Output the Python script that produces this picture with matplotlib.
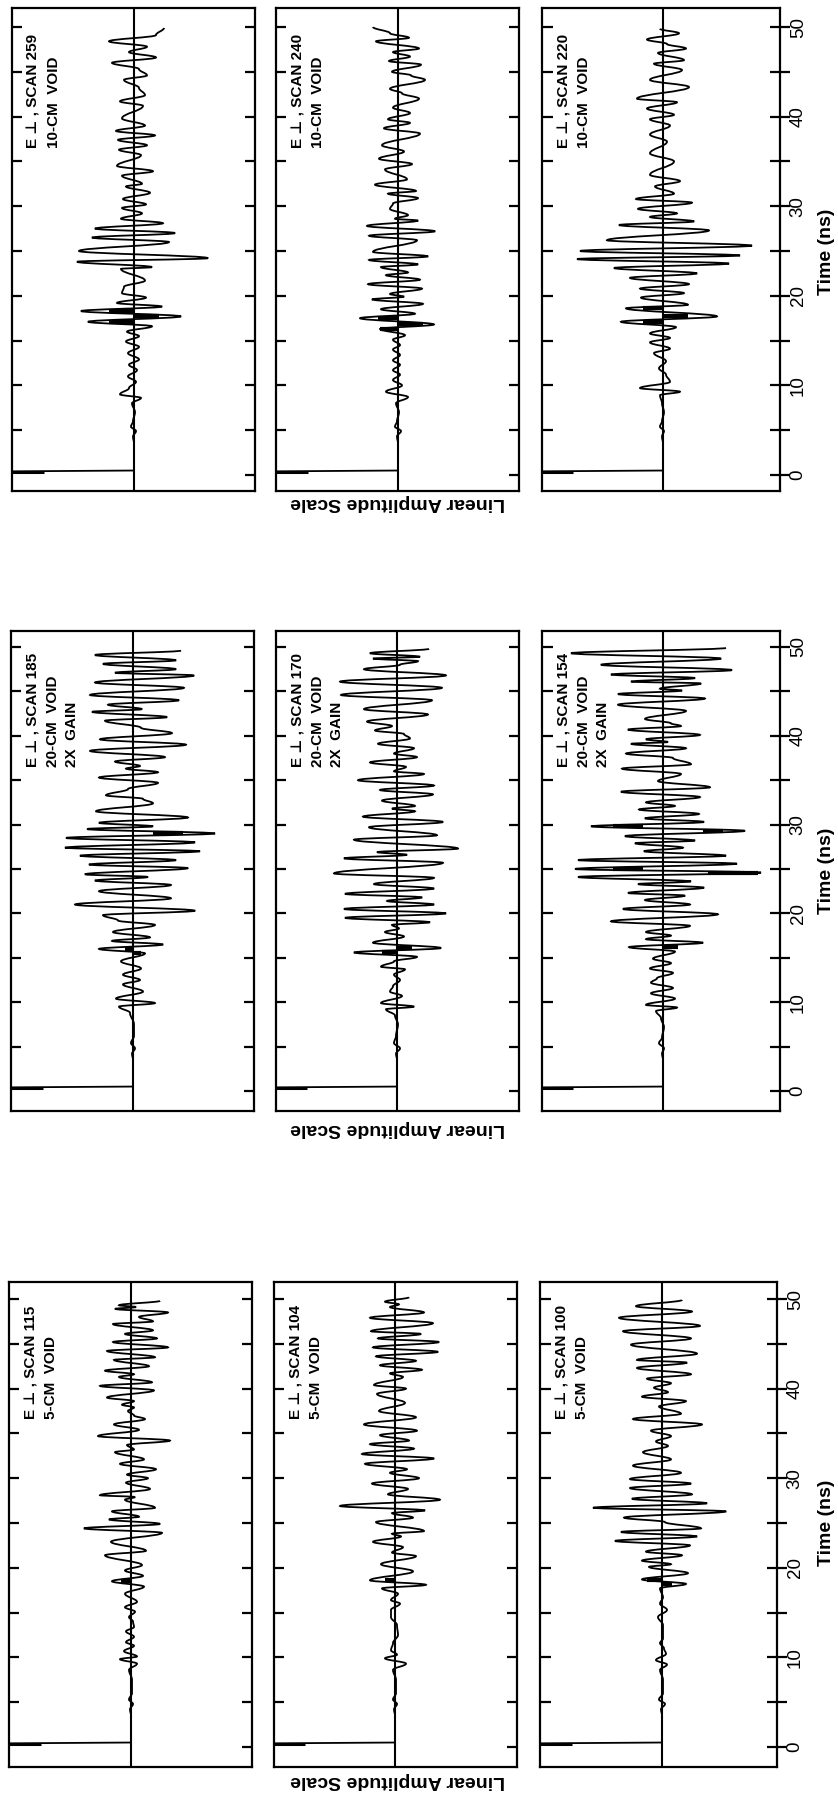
import matplotlib
matplotlib.use("Agg")
import matplotlib.pyplot as plt
from matplotlib.path import Path
from matplotlib.patches import PathPatch

plt.rcParams['font.family'] = ['Liberation Sans', 'DejaVu Sans']

# peak times (ns) and amplitudes of each trace
t_259 = [49.9,49.1,48.4,47.8,47.2,46.6,46.0,45.3,44.6,44.1,43.2,42.4,41.7,41.2,39.8,39.0,38.4,37.9,37.4,36.8,36.3,35.7,34.5,33.9,33.4,32.5,32.2,31.5,30.8,30.2,29.8,29.2,28.6,28.1,27.5,27.0,26.5,26.0,25.0,24.2,23.8,23.2,23.0,21.7,21.0,20.3,19.8,19.2,18.8,18.3,17.7,17.1,16.6,16.0,15.5,14.9,14.3,13.6,12.9,12.3,11.7,11.0,10.4,9.7,9.0,8.6,8.0,7.0,6.0,5.4,4.9,4.3,3.5,1.0]
a_259 = [30,22,-25,13,-5,22,-22,5,13,-10,5,11,-14,9,-12,11,-18,21,-16,13,-15,7,-17,19,-12,8,-8,16,-11,12,-12,8,-13,29,-39,41,-42,35,-55,74,-57,18,-13,11,-10,-12,12,-17,28,-53,47,-46,18,-7,5,-8,5,-6,5,-5,3,-6,2,-5,-14,7,-2,1,-1,-3,2,-1,0,0]

t_240 = [50.0,49.3,48.8,48.4,47.6,47.2,46.7,46.2,45.8,45.0,44.6,44.1,43.1,42.6,42.0,41.0,40.4,39.7,39.3,38.7,38.1,36.8,36.1,35.3,34.7,34.1,33.0,32.4,31.7,31.4,30.9,30.3,29.7,29.0,28.6,28.4,27.8,27.2,26.7,26.2,24.9,24.4,24.0,23.5,23.2,22.6,22.3,21.8,21.3,20.8,20.2,19.9,19.6,19.1,18.5,18.0,17.5,16.8,16.3,15.6,15.1,14.5,14.0,13.4,12.8,12.3,11.7,11.2,10.6,10.0,9.3,8.7,8.0,7.0,6.0,5.4,4.9,4.3,3.5,1.0]
a_240 = [-25,-8,11,-22,21,-5,12,-9,23,-6,13,27,-8,4,21,-5,12,-10,12,-14,22,-16,6,-19,14,-13,9,-23,18,-10,20,-5,-8,10,-3,20,-31,37,-29,19,-25,30,-29,20,-17,10,-12,22,-30,24,-8,6,-26,25,-17,17,-38,36,-18,7,-5,2,-5,2,-5,2,-5,2,-5,4,-12,10,-2,1,-1,-3,3,-1,0,0]

t_220 = [49.8,49.3,48.6,48.1,47.6,47.1,46.3,45.9,45.2,44.1,43.3,42.0,41.6,40.9,40.2,39.7,39.0,38.0,37.2,35.9,35.0,33.5,32.8,32.2,31.4,30.8,30.4,29.7,29.2,28.8,28.3,27.9,27.3,26.2,25.6,25.0,24.5,24.1,23.6,23.1,22.5,22.0,21.3,20.8,20.3,19.8,19.0,18.6,17.7,17.1,16.5,15.8,15.3,14.8,14.1,13.6,12.7,11.9,11.2,10.4,9.7,9.3,8.9,8.0,7.0,6.0,5.4,4.9,4.3,3.5,1.0]
a_220 = [-3,16,-16,4,23,-5,21,-9,19,-13,26,-26,14,-16,11,-13,7,-13,4,-13,11,-13,17,-8,11,-27,29,-25,14,-13,31,-44,46,-56,89,-83,77,-86,66,-49,34,-33,26,-23,21,-22,25,-37,54,-42,13,-13,7,-13,7,-9,3,-4,3,7,-23,17,-3,-1,1,-1,-3,1,-1,0,0]

t_185 = [49.6,49.1,48.5,48.1,47.5,47.1,46.8,46.0,45.4,44.6,44.0,43.5,43.0,42.7,42.1,41.7,40.9,40.3,39.6,39.0,38.3,37.6,37.1,36.6,36.3,35.9,35.3,34.7,34.0,33.3,32.9,32.4,31.5,30.8,30.2,29.8,29.5,29.0,28.5,28.0,27.4,27.0,26.5,26.0,25.5,25.1,24.4,24.1,23.7,23.2,22.5,21.7,21.0,20.3,19.8,19.2,18.7,17.9,17.3,16.9,16.5,16.0,15.5,14.6,13.8,13.1,12.5,12.0,11.2,10.4,9.9,9.5,8.8,7.5,6.2,5.4,4.8,4.2,3.5,1.0]
a_185 = [48,-38,43,-30,43,-18,61,-38,51,-43,46,-25,9,-41,34,-28,8,39,-33,53,-43,32,-18,7,-7,25,-34,25,-5,-27,10,20,-37,55,-34,20,-46,82,-67,62,-68,67,-53,43,-44,55,-48,15,-38,38,-34,38,-58,62,-30,-15,22,-20,17,-21,30,-34,12,-12,8,-10,7,-10,10,-17,22,-14,-3,1,1,-2,2,-1,0,0]

t_170 = [49.8,49.3,48.9,48.7,48.4,48.0,47.5,46.8,46.1,45.4,44.6,44.0,43.0,42.4,41.6,41.1,40.6,40.2,39.7,39.1,38.6,38.0,37.6,37.0,36.5,36.0,35.7,35.0,34.4,33.9,33.4,32.7,32.1,31.8,31.5,30.9,30.3,29.7,28.8,28.3,27.3,26.9,26.6,26.2,25.7,24.5,24.0,23.3,22.8,22.2,21.8,21.4,21.0,20.5,20.0,19.5,19.0,18.7,18.3,17.9,17.4,16.7,16.1,15.6,15.1,14.6,14.0,13.7,13.1,12.5,11.8,11.2,10.7,9.9,9.5,9.2,8.5,7.5,6.2,5.4,4.8,4.2,3.5,1.0]
a_170 = [32,-27,23,-24,21,3,-33,49,-57,45,-56,35,-33,31,-30,-5,-22,7,13,-19,17,-3,20,-27,9,-3,27,-39,37,-17,36,-15,18,-5,18,-34,46,-28,40,-43,61,-20,10,-53,46,-63,37,-23,37,-52,25,-10,37,-53,49,-52,33,-5,2,-12,7,-24,44,-43,20,-3,-16,8,-3,3,-4,-7,5,-16,17,-11,-2,1,-1,-3,3,-1,0,0]

t_154 = [49.9,49.3,48.7,48.0,47.4,46.9,46.5,46.1,45.9,45.3,45.1,44.7,44.2,43.5,42.8,41.9,41.4,41.1,40.7,40.1,39.6,39.3,39.1,38.6,38.0,37.5,36.8,36.3,35.7,34.9,34.2,33.7,33.1,32.5,32.1,31.7,31.2,30.7,30.3,29.8,29.3,28.7,28.2,27.9,27.4,27.0,26.5,26.0,25.6,25.0,24.6,24.1,23.6,23.3,22.9,22.3,22.0,21.5,21.0,20.5,19.9,19.1,18.6,17.9,17.5,17.1,16.7,16.2,15.7,14.9,14.4,13.8,13.3,12.7,12.2,11.6,11.0,10.4,9.7,9.4,9.0,8.2,7.2,6.0,5.4,4.8,4.2,3.5,1.0]
a_154 = [63,-92,58,-62,69,-52,32,-32,38,-3,19,-45,42,-45,23,-18,8,18,-35,37,-17,5,-32,23,-37,10,28,-41,18,-5,47,-42,37,-17,12,-24,36,-18,41,-72,82,-38,32,-28,20,-19,63,-85,74,-88,98,-85,28,-25,41,-35,22,-18,27,-40,55,-52,27,-17,8,-17,40,-34,12,-10,8,-13,10,-6,-12,10,-12,12,-17,14,-7,-2,1,-1,-4,1,-1,0,0]

t_115 = [49.8,49.3,49.1,48.9,48.5,48.0,47.5,47.2,46.5,46.1,45.6,45.2,44.6,44.2,43.5,43.2,42.5,42.0,41.6,41.3,40.7,40.3,39.8,39.0,38.6,38.2,37.9,37.5,37.0,36.6,36.0,35.4,34.7,34.2,33.7,33.2,32.9,32.1,31.6,31.0,30.4,30.0,29.5,28.8,28.1,27.9,27.6,26.7,26.3,25.7,25.4,24.9,24.4,23.9,22.9,21.9,21.4,20.3,19.7,19.1,18.5,17.9,17.1,16.2,15.6,15.1,14.5,14.0,13.4,12.9,12.3,11.7,11.3,10.7,10.1,9.8,9.3,8.6,7.5,6.0,5.3,4.8,4.2,3.5,1.0]
a_115 = [29,-12,5,-16,37,8,22,-18,22,-6,26,-18,37,-24,24,-17,18,-26,3,-12,21,-31,23,-24,3,-9,3,-3,3,14,-17,8,-33,39,-4,3,-16,13,-11,25,-4,17,-5,19,-31,4,-6,24,-19,8,-22,29,-47,31,-20,15,-26,11,-6,12,-19,13,-6,6,-6,4,-2,2,3,-5,3,-5,3,-7,6,-11,6,-2,1,1,-2,2,-1,0,0]

t_104 = [50.2,49.7,49.4,49.1,48.5,47.9,47.3,46.4,46.1,45.6,45.2,44.6,44.1,43.6,43.1,42.6,42.1,41.7,41.3,40.4,40.0,39.4,38.4,37.5,36.8,36.0,35.3,34.8,34.2,33.8,33.3,32.7,32.2,31.6,31.0,30.6,30.0,29.4,28.8,28.2,27.6,26.9,26.4,26.1,25.6,25.1,24.1,23.8,23.5,22.9,22.3,21.7,21.3,20.4,19.6,18.6,18.1,17.7,17.1,16.4,16.0,15.3,14.5,13.6,12.5,11.6,10.8,10.3,9.9,9.3,8.6,7.5,6.0,5.3,4.8,4.2,3.5,1.0]
a_104 = [14,-10,4,-5,29,-25,38,-24,26,-17,44,-22,43,-19,21,-15,27,-5,8,-21,11,-18,10,-16,21,-31,22,-15,14,-25,19,-33,39,-30,12,-5,24,-23,13,-7,45,-55,30,-3,18,-19,29,-3,6,-22,8,-3,21,-14,18,-25,31,-13,3,-4,5,-4,-4,2,3,-2,-4,2,-10,11,-2,1,1,-2,2,-1,0,0]

t_100 = [49.9,49.2,48.6,47.9,47.0,46.4,45.6,44.9,43.9,43.2,42.9,42.3,41.6,41.1,40.6,40.1,39.6,39.1,38.6,38.0,37.2,36.6,36.0,35.3,34.7,34.1,33.6,32.9,32.1,31.4,30.6,29.9,29.4,28.9,28.2,27.7,27.2,26.7,26.3,25.6,25.1,24.4,24.0,23.5,23.0,22.5,21.8,21.4,20.8,20.4,20.1,19.4,18.7,18.2,17.7,16.7,16.0,15.3,14.5,13.6,12.1,11.6,11.0,10.4,9.7,9.2,8.6,7.5,6.0,5.3,4.8,4.2,3.5,1.0]
a_100 = [20,-26,30,-43,38,-39,29,-31,35,-25,25,-25,29,-15,9,-8,6,-20,24,-3,19,-29,40,-11,9,-6,6,-19,9,-29,19,-32,29,-32,30,-30,45,-69,64,-38,3,39,-41,35,-47,28,-16,20,-20,9,-13,26,-20,24,-2,1,-2,5,-4,1,1,-2,2,4,-6,5,-2,1,1,-3,3,-1,0,0]

# spots where the scan ink runs solid: time, amplitude from, amplitude to
solid_259 = [(18.3, -25, 0), (17.7, 0, 25), (17.1, -25, 0)]
solid_240 = [(17.5, -20, 0), (16.8, 0, 25), (16.3, -18, 0)]
solid_220 = [(18.6, -20, 0), (17.7, 0, 25), (17.1, -20, 0)]
solid_185 = [(29.0, 20, 50), (16.0, -8, 0), (15.5, 0, 8)]
solid_170 = [(16.1, 0, 15), (15.6, -15, 0)]
solid_154 = [(29.3, 40, 60), (29.8, -50, -20), (25.0, -50, -20), (24.6, 45, 95), (16.2, 0, 15)]
solid_115 = [(18.5, -10, 0)]
solid_104 = [(18.6, -10, 0)]
solid_100 = [(18.6, -15, 0), (18.2, 0, 10)]

traces = [[(t_259, a_259, solid_259), (t_240, a_240, solid_240), (t_220, a_220, solid_220)],
          [(t_185, a_185, solid_185), (t_170, a_170, solid_170), (t_154, a_154, solid_154)],
          [(t_115, a_115, solid_115), (t_104, a_104, solid_104), (t_100, a_100, solid_100)]]
notes = [[['E \u22a5 , SCAN 259', '10-CM  VOID'], ['E \u22a5 , SCAN 240', '10-CM  VOID'], ['E \u22a5 , SCAN 220', '10-CM  VOID']],
         [['E \u22a5 , SCAN 185', '20-CM  VOID', '2X  GAIN'], ['E \u22a5 , SCAN 170', '20-CM  VOID', '2X  GAIN'], ['E \u22a5 , SCAN 154', '20-CM  VOID', '2X  GAIN']],
         [['E \u22a5 , SCAN 115', '5-CM  VOID'], ['E \u22a5 , SCAN 104', '5-CM  VOID'], ['E \u22a5 , SCAN 100', '5-CM  VOID']]]
time_ticks = [0, 5, 10, 15, 20, 25, 30, 35, 40, 45, 50]
time_labels = ['0', '', '10', '', '20', '', '30', '', '40', '', '50']

W, H = 838, 1795
fig = plt.figure(figsize=(W / 100, H / 100), dpi=100)

# pixel layout of the scanned page
rows = [dict(top=8, bottom=491, t0=475, t50=27, text_y=148, ylab=503, tlab=252),
        dict(top=631, bottom=1111, t0=1091, t50=647, text_y=767, ylab=1128, tlab=871),
        dict(top=1282, bottom=1767, t0=1747, t50=1299, text_y=1419, ylab=1781, tlab=1523)]
cols = [[(12, 255, 134), (276, 519, 398), (542, 780, 663)],
        [(11, 254, 133), (276, 519, 397), (542, 780, 663)],
        [(9, 252, 131), (274, 517, 395), (540, 777, 662)]]


def draw_trace(ax, t, a, solid):
    # smooth lobes between the peaks, then the pegged start pulse
    verts = [(a[0], t[0])]
    codes = [Path.MOVETO]
    for i in range(1, len(t)):
        t_prev, t_next = t[i - 1], t[i]
        step = t_next - t_prev
        verts += [(a[i - 1], t_prev + 0.38 * step), (a[i], t_next - 0.38 * step), (a[i], t_next)]
        codes += [Path.CURVE4] * 3
    verts += [(0, 0.5), (-200, 0.35)]
    codes += [Path.LINETO, Path.LINETO]
    ax.add_patch(PathPatch(Path(verts, codes), fill=False, ec='black', lw=1.3))
    for when, start, end in solid:
        ax.plot([start, end], [when, when], color='black', lw=3, solid_capstyle='butt')
    ax.plot([ax.get_xlim()[0], -90], [0.35, 0.35], color='black', lw=2.2, solid_capstyle='butt')


for r, row in enumerate(rows):
    scale = (row['t0'] - row['t50']) / 50
    for c in range(3):
        left, right, base = cols[r][c]
        ax = fig.add_axes([left / W, 1 - row['bottom'] / H, (right - left) / W, (row['bottom'] - row['top']) / H])
        ax.set_xlim(left - base, right - base)
        ax.set_ylim((row['t0'] - row['bottom']) / scale, (row['t0'] - row['top']) / scale)
        ax.axvline(0, color='black', lw=1.5)
        draw_trace(ax, *traces[r][c])
        ax.set_xlim(left - base, right - base)
        for s in ax.spines.values():
            s.set_linewidth(1.6)
        ax.set_xticks([])
        ax.set_yticks(time_ticks)
        ax.tick_params(axis='y', which='both', direction='in', left=True, right=True, length=7, width=1.6, labelleft=False, labelright=False)
        # the start pulse hides the left tick at 0
        ax.yaxis.get_major_ticks()[0].tick1line.set_visible(False)
        if c == 2:
            ax.tick_params(axis='y', direction='inout', length=14, labelright=True, pad=0)
            ax.set_yticklabels(time_labels, rotation=90, va='center', fontsize=13.5)
            ax.tick_params(axis='y', which='both', left=False)
            for tick_t in time_ticks[1:]:
                ax.plot([left - base, left - base + 11], [tick_t, tick_t], color='black', lw=1.6, solid_capstyle='butt', clip_on=False)
        for n, line in enumerate(notes[r][c]):
            fig.text((left + 22 + n * 19.5) / W, 1 - row['text_y'] / H, line, rotation=90, ha='center', va='bottom', fontsize=11, fontweight='bold')
    fig.text(398 / W, 1 - row['ylab'] / H, 'Linear Amplitude Scale', rotation=180, ha='center', va='center', fontsize=14, fontweight='bold')
    fig.text(826 / W, 1 - row['tlab'] / H, 'Time (ns)', rotation=90, ha='center', va='center', fontsize=14, fontweight='bold')

fig.savefig('out.png', dpi=100)
